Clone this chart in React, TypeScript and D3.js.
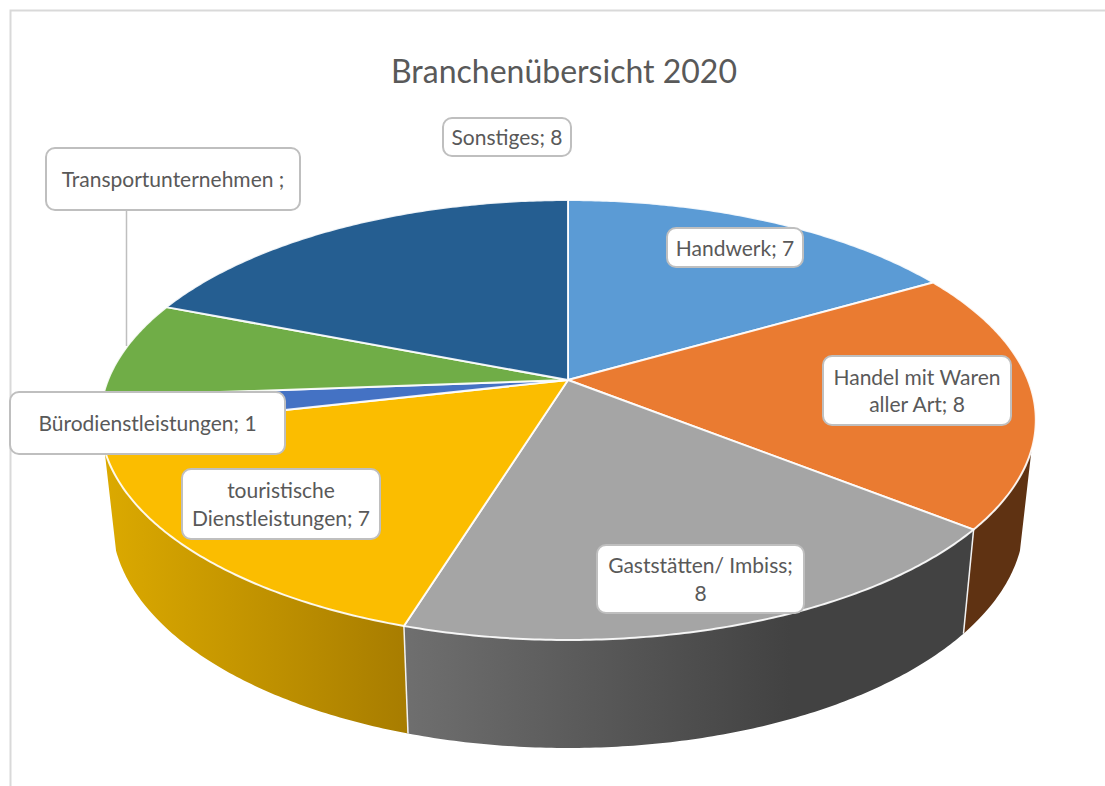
import React from "react";
import * as d3 from "d3";

const categories = ["Handwerk", "Handel mit Waren aller Art", "Gaststätten/ Imbiss", "touristische Dienstleistungen", "Bürodienstleistungen", "Transportunternehmen", "Sonstiges"];
const values = [7, 8, 8, 7, 1, 3, 8];
const topColors = ["#5b9bd5", "#ea7b31", "#a5a5a5", "#fbbd00", "#4472c4", "#70ad47", "#255e91"];
const sideStops: (string[] | null)[] = [null, ["#5f3212", "#5f3212"], ["#6f6f6f", "#424242"], ["#dcaa00", "#a87d00"], null, null, null];
const title = "Branchenübersicht 2020";
const labelLines = [["Handwerk; 7"], ["Handel mit Waren", "aller Art; 8"], ["Gaststätten/ Imbiss;", "8"], ["touristische", "Dienstleistungen; 7"], ["Bürodienstleistungen; 1"], ["Transportunternehmen ;"], ["Sonstiges; 8"]];
const labelBoxes = [[667, 228, 136, 39], [823, 356, 188, 69], [597, 545, 207, 68], [182, 469, 198, 70], [10, 392, 275, 62], [46, 148, 254, 62], [443, 118, 128, 38]];

const W = 1105, H = 786;
const CX = 568, CY = 380;
const K = 0.1818, A = 460, B = 212.7;
const VISIBLE_FROM = (108 * Math.PI) / 180, VISIBLE_TO = (252 * Math.PI) / 180;
const sideX = d3.scaleLinear().domain([CX - 100, CX + 100]).range([CX - 97.5, CX + 97.5]);
const sideY = d3.scaleLinear().domain([500, 600]).range([85 + 1.036 * 500, 85 + 1.036 * 600]);

const topPt = (a: number): [number, number] => {
  const w = 1 + K * Math.cos(a);
  return [CX + (A * Math.sin(a)) / w, CY - (B * Math.cos(a)) / w];
};
const botPt = (a: number): [number, number] => {
  const [x, y] = topPt(a);
  return [sideX(x), sideY(y)];
};
const arcAngles = (a0: number, a1: number) => {
  const n = Math.max(2, Math.ceil((a1 - a0) / 0.01));
  return d3.range(n + 1).map((i) => a0 + ((a1 - a0) * i) / n);
};
const line = d3.line<[number, number]>().x((d) => d[0]).y((d) => d[1]);
const slices = d3.pie<number>().sort(null).value((d) => d)(values);
const FONT = "Lato, 'Open Sans', sans-serif";

export default function App() {
  return (
    <svg width={W} height={H} style={{ position: "absolute", left: 0, top: 0, background: "#fff" }}>
      <defs>
        {slices.map((s, i) => {
          const st = sideStops[i];
          if (!st) return null;
          const xs = arcAngles(s.startAngle, s.endAngle).map((a) => topPt(a)[0]);
          return (
            <linearGradient key={i} id={`side${i}`} gradientUnits="userSpaceOnUse" x1={d3.min(xs)} x2={i === 2 ? 790 : d3.max(xs)} y1={0} y2={0}>
              <stop offset="0" stopColor={st[0]} />
              <stop offset="1" stopColor={st[1]} />
            </linearGradient>
          );
        })}
      </defs>
      <path d={`M10.5 786V10.5H1105`} fill="none" stroke="#d9d9d9" strokeWidth={2} />
      <text x={564} y={83} textAnchor="middle" fontFamily={FONT} fontSize={32} fill="#595959">{title}</text>
      {slices.map((s, i) => {
        if (!sideStops[i]) return null;
        const ang = arcAngles(Math.max(s.startAngle, VISIBLE_FROM), Math.min(s.endAngle, VISIBLE_TO));
        const pts = [...ang.map(topPt), ...ang.slice().reverse().map(botPt)];
        return <path key={i} d={line(pts) + "Z"} fill={`url(#side${i})`} stroke="none" />;
      })}
      {slices.map((s, i) => {
        if (!sideStops[i] || i === 1) return null;
        return <path key={i} d={line([topPt(s.startAngle), botPt(s.startAngle)]) || ""} stroke="#f2f2f2" strokeWidth={1.5} fill="none" />;
      })}
      {slices.map((s, i) => {
        const pts: [number, number][] = [[CX, CY], ...arcAngles(s.startAngle, s.endAngle).map(topPt)];
        return <path key={i} d={line(pts) + "Z"} fill={topColors[i]} stroke="#fff" strokeOpacity={0.9} strokeWidth={2} strokeLinejoin="round" />;
      })}
      <line x1={126.5} x2={126.5} y1={210} y2={346} stroke="#bfbfbf" strokeWidth={1.5} />
      {categories.map((c, i) => {
        const [x, y, w, h] = labelBoxes[i];
        const lines = labelLines[i];
        const my = y + h / 2;
        return (
          <g key={c}>
            <rect x={x} y={y} width={w} height={h} rx={9} fill="#fff" stroke="#bfbfbf" strokeWidth={2} />
            {lines.map((t, j) => (
              <text key={j} x={x + w / 2} y={my + (j - (lines.length - 1) / 2) * 27.5 + 8} textAnchor="middle" fontFamily={FONT} fontSize={21} fill="#595959">{t}</text>
            ))}
          </g>
        );
      })}
    </svg>
  );
}
